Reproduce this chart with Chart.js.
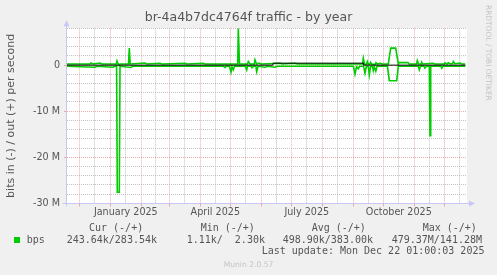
<!DOCTYPE html>
<html><head><meta charset="utf-8">
<script src="https://cdn.jsdelivr.net/npm/chart.js@4"></script>
<style>
html,body{margin:0;padding:0;background:#f0f0f0;}
#wrap{position:relative;width:497px;height:275px;overflow:hidden;background:#f0f0f0;}
canvas{position:absolute;left:0;top:0;}
.t{position:absolute;font-family:'DejaVu Sans Mono',monospace;font-size:10px;line-height:12px;color:#555;white-space:pre;}
</style></head><body>
<div id="wrap">
<canvas id="c" width="497" height="275"></canvas>
<div class="t" style="left:89px;top:222px">Cur (-/+)</div>
<div class="t" style="left:200.7px;top:222px">Min (-/+)</div>
<div class="t" style="left:311.7px;top:222px">Avg (-/+)</div>
<div class="t" style="left:422.7px;top:222px">Max (-/+)</div>
<div style="position:absolute;left:14px;top:237px;width:6px;height:6px;background:#00cc00"></div>
<div class="t" style="left:26.7px;top:233.5px">bps</div>
<div class="t" style="left:66.7px;top:233.5px">243.64k/283.54k</div>
<div class="t" style="left:186.7px;top:233.5px">1.11k/  2.30k</div>
<div class="t" style="left:282.7px;top:233.5px">498.90k/383.00k</div>
<div class="t" style="left:391.7px;top:233.5px">479.37M/141.28M</div>
<div class="t" style="left:261.7px;top:244.5px">Last update: Mon Dec 22 01:00:03 2025</div>
<div style="position:absolute;left:0;top:259.8px;width:497px;text-align:center;font-family:'DejaVu Sans';font-size:7.6px;line-height:9px;color:#c4c4c4">Munin 2.0.57</div>
<div style="position:absolute;left:493px;top:5px;transform:rotate(90deg);transform-origin:0 0;font-family:'DejaVu Sans';font-size:7.45px;line-height:9px;color:#c4c4c4;white-space:nowrap">RRDTOOL / TOBI OETIKER</div>
</div>
<script>
// x values: days since 2025-01-01
const outDays = [-43.3,-20.3,-19.3,-17.3,-10.3,-8.3,3.7,6.0,6.7,8.2,9.7,18.2,19,19.9,34.7,36.7,49.7,51.7,74.7,76.7,92.7,94.7,127.4,128,129.2,137.2,138,139.7,144,144.7,146.2,148.7,150.7,169.7,171.7,184.7,186.7,252.3,253,254.2,256.3,257,258.2,259.5,260.2,261.7,265,265.7,267.2,269.7,271.7,278,280.4,285.4,288,288.7,297.7,298.7,306.2,307,308.2,310.7,311.4,312.7,322.7,324.7,334,334.7,336.7,338,339.7,342.3,343,344.7,349.7,351.7,355];
const outBps  = [0.25e6,0.25e6,0.45e6,0.25e6,0.45e6,0.25e6,0.25e6,0.25e6,0.9e6,0.05e6,0.25e6,0.25e6,3.7e6,0.25e6,0.45e6,0.25e6,0.4e6,0.25e6,0.4e6,0.25e6,0.4e6,0.25e6,0.25e6,8.0e6,0.25e6,0.25e6,0.8e6,0.25e6,0.25e6,1.15e6,0.25e6,0.45e6,0.25e6,0.4e6,0.25e6,0.4e6,0.25e6,0.25e6,1.5e6,0.2e6,0.2e6,0.8e6,0.2e6,0.2e6,0.6e6,0.2e6,0.2e6,0.55e6,0.25e6,0.4e6,0.25e6,0.25e6,3.7e6,3.7e6,0.25e6,0.55e6,0.55e6,0.25e6,0.25e6,1.0e6,0.25e6,0.25e6,0.6e6,0.25e6,0.4e6,0.25e6,0.25e6,0.5e6,0.25e6,0.5e6,0.3e6,0.3e6,0.8e6,0.3e6,0.45e6,0.25e6,0.25e6];
const inDays  = [-43.3,-15.3,-13.3,2.7,4.7,6.3,7.0,9.0,9.7,20.7,22.2,113.2,114.7,116.2,119.2,120.7,121.7,123,124.2,135.2,136.4,137.2,140.8,141.7,143.2,145.6,146.4,147.7,154.7,156.7,164.7,166.7,243.2,244.7,246.2,248,249.2,253.2,254.7,256,258,259,260.2,262.2,263,264,265.5,266.7,277.2,279,286.4,288,308,309,310.2,313.7,314.7,316.2,319,319.7,320.4,330.6,331.4,332.7,355];
const inBps   = [-0.25e6,-0.45e6,-0.25e6,-0.45e6,-0.25e6,-0.25e6,-27.6e6,-27.6e6,-0.25e6,-0.5e6,-0.25e6,-0.25e6,-0.5e6,-0.25e6,-0.25e6,-1.5e6,-0.35e6,-1.0e6,-0.25e6,-0.25e6,-1.0e6,-0.25e6,-0.25e6,-0.55e6,-0.25e6,-0.25e6,-1.4e6,-0.25e6,-0.45e6,-0.25e6,-0.45e6,-0.25e6,-0.25e6,-1.95e6,-0.35e6,-0.8e6,-0.25e6,-0.25e6,-1.75e6,-0.3e6,-0.3e6,-2.1e6,-0.3e6,-0.3e6,-1.2e6,-0.35e6,-1.3e6,-0.25e6,-0.25e6,-3.4e6,-3.4e6,-0.25e6,-0.25e6,-1.0e6,-0.25e6,-0.25e6,-0.65e6,-0.25e6,-0.25e6,-15.3e6,-0.25e6,-0.25e6,-0.65e6,-0.25e6,-0.25e6];
const zeroDays = [-43.3,162.6,162.8,253,253.2,355];
const zeroBps  = [0,0,0.43e6,0.43e6,0,0];
const monthStartDays = [-31,0,31,59,90,120,151,181,212,243,273,304,334,365];
const labelMonthStarts = [0,90,181,273];
const xTickLabels = ['January 2025','April 2025','July 2025','October 2025'];
const yMin = -30e6, yMax = 8e6, yTickStep = 2e6;
const xMin = -43.3, xMax = 356.7;

const GREEN = '#00cc00';
const RED = 'rgba(228,120,120,0.6)';
const GREY = 'rgba(175,175,175,0.75)';
const AXIS = 'rgb(200,200,245)';

const xTicks = [];
const labelAt = {};
for (let i = 0; i < monthStartDays.length - 1; i++) {
  const s = monthStartDays[i], mid = (monthStartDays[i] + monthStartDays[i+1]) / 2;
  if (s >= xMin && s <= xMax) xTicks.push(s);
  if (mid >= xMin && mid <= xMax) xTicks.push(mid);
  const li = labelMonthStarts.indexOf(s);
  if (li >= 0) labelAt[mid] = xTickLabels[li];
}
const startSet = new Set(monthStartDays);
const yTicks = [];
for (let v = yMin; v <= yMax; v += yTickStep) yTicks.push(v);

const pts = (xs, ys) => xs.map((x, i) => ({x, y: ys[i]}));

const decor = {
  id: 'decor',
  beforeDraw(chart) {
    const {ctx, chartArea: a} = chart;
    ctx.save();
    ctx.fillStyle = '#ffffff';
    ctx.fillRect(a.left, a.top, a.right - a.left, a.bottom - a.top);
    ctx.restore();
  },
  afterDraw(chart) {
    const {ctx, chartArea: a} = chart;
    ctx.save();
    ctx.strokeStyle = AXIS; ctx.fillStyle = AXIS; ctx.lineWidth = 1;
    const x0 = Math.round(a.left) - 0.5, y0 = Math.round(a.bottom) + 0.5;
    ctx.beginPath();
    ctx.moveTo(x0, y0 + 3); ctx.lineTo(x0, a.top - 4);
    ctx.moveTo(x0 - 4, y0); ctx.lineTo(a.right + 4, y0);
    ctx.stroke();
    ctx.beginPath();
    ctx.moveTo(x0, a.top - 8); ctx.lineTo(x0 - 3, a.top - 2); ctx.lineTo(x0 + 3, a.top - 2); ctx.closePath();
    ctx.fill();
    ctx.beginPath();
    ctx.moveTo(a.right + 8, y0); ctx.lineTo(a.right + 2, y0 - 3); ctx.lineTo(a.right + 2, y0 + 3); ctx.closePath();
    ctx.fill();
    ctx.restore();
  }
};

Chart.defaults.font.family = "'DejaVu Sans', sans-serif";
Chart.defaults.color = '#555';

new Chart(document.getElementById('c'), {
  type: 'line',
  data: {
    datasets: [
      {label: 'zero', data: pts(zeroDays, zeroBps), borderColor: '#000000', borderWidth: 1, pointRadius: 0, tension: 0},
      {label: 'out', data: pts(outDays, outBps), borderColor: GREEN, borderWidth: 1.6, pointRadius: 0, tension: 0},
      {label: 'in', data: pts(inDays, inBps), borderColor: GREEN, borderWidth: 1.6, pointRadius: 0, tension: 0}
    ]
  },
  options: {
    responsive: false,
    animation: false,
    events: [],
    devicePixelRatio: 1,
    layout: {padding: {left: 0, right: 0, top: 0, bottom: 0}},
    plugins: {
      legend: {display: false},
      tooltip: {enabled: false},
      title: {display: true, text: 'br-4a4b7dc4764f traffic - by year', color: '#555',
        font: {size: 12.5, weight: 'normal', lineHeight: 1.2}, padding: {top: 10.5, bottom: 2.8}}
    },
    scales: {
      x: {
        type: 'linear', min: xMin, max: xMax,
        afterBuildTicks(scale) { scale.ticks = xTicks.map(v => ({value: v})); },
        afterFit(scale) { scale.height = 71.7; },
        ticks: {autoSkip: false, maxRotation: 0, minRotation: 0, padding: 0, color: '#555',
          font: {size: 9.6},
          callback(v) { return labelAt[v] || ''; }},
        grid: {
          color: c => (c.tick && startSet.has(c.tick.value)) ? RED : GREY,
          tickColor: c => (c.tick && startSet.has(c.tick.value)) ? RED : 'rgba(0,0,0,0)',
          tickLength: 3, lineWidth: 1, borderDash: [1, 1]
        },
        border: {display: false, dash: [1, 1]}
      },
      y: {
        type: 'linear', min: yMin, max: yMax,
        afterBuildTicks(scale) { scale.ticks = yTicks.map(v => ({value: v})); },
        afterFit(scale) { scale.width = 67; },
        ticks: {autoSkip: false, padding: 4, color: '#555', font: {size: 9.6},
          callback(v) { return (v % 10e6 === 0) ? (v === 0 ? '0' : (v / 1e6) + ' M') : ''; }},
        grid: {
          color: c => (c.tick && c.tick.value % 10e6 === 0) ? RED : GREY,
          tickColor: c => (c.tick && c.tick.value % 10e6 === 0) ? RED : 'rgba(0,0,0,0)',
          tickLength: 3, lineWidth: 1, borderDash: [1, 1]
        },
        border: {display: false, dash: [1, 1]},
        title: {display: true, text: 'bits in (-) / out (+) per second', color: '#555',
          font: {size: 11, lineHeight: 1.2}, padding: {top: 4.4, bottom: 0}}
      },
      y2: {
        type: 'linear', position: 'right', display: true, min: 0, max: 1,
        afterFit(scale) { scale.width = 30; },
        ticks: {display: false},
        grid: {display: false, drawTicks: false},
        border: {display: false}
      }
    }
  },
  plugins: [decor]
});
</script>
</body></html>
